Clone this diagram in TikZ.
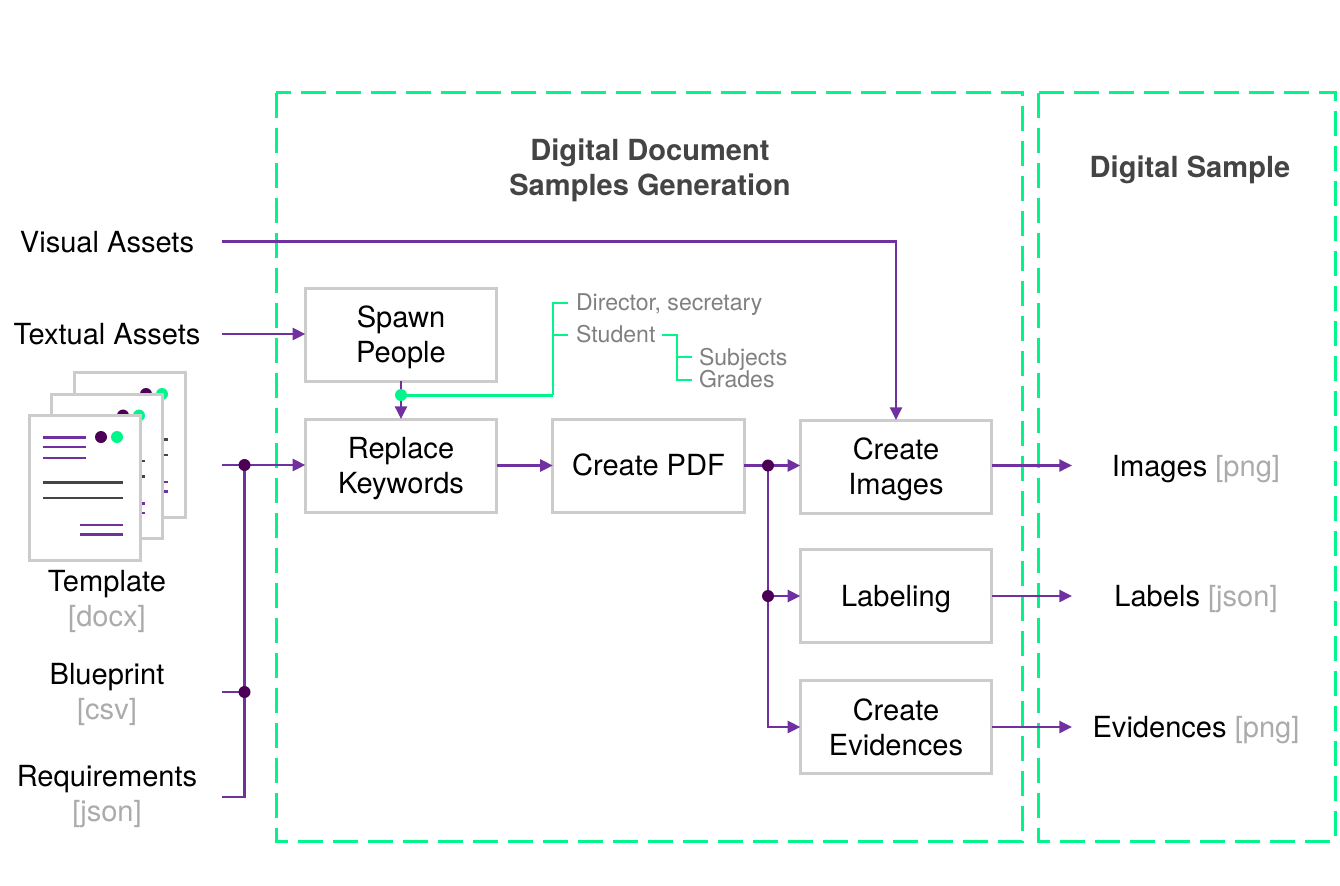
\documentclass[tikz,border=0pt]{standalone}
\usepackage{fontspec}
\setmainfont{TeX Gyre Heros}
\usetikzlibrary{arrows.meta,calc}
\definecolor{wire}{HTML}{7030A0}
\definecolor{dotc}{HTML}{4C0055}
\definecolor{mint}{HTML}{00F58A}
\definecolor{boxc}{HTML}{CCCCCC}
\definecolor{darkt}{HTML}{444444}
\definecolor{graylab}{HTML}{ABABAB}
\definecolor{graysm}{HTML}{808080}
\tikzset{
  x=0.75pt,y=-0.75pt,
  txt/.style={inner sep=0pt,outer sep=0pt,align=center,text=black,font=\fontsize{21.8}{26.25}\selectfont},
  procbox/.style={txt,draw=boxc,line width=2.25pt,fill=white,minimum width=143.5pt,minimum height=69.75pt,outer sep=0pt,text depth=0pt},
  title/.style={txt,text=darkt,font=\fontsize{21.8}{26.25}\selectfont\bfseries},
  small/.style={inner sep=0pt,outer sep=0pt,text=graysm,anchor=base west,font=\fontsize{17.3}{20}\selectfont},
  zone/.style={draw=mint,line width=2.25pt,dash pattern=on 18.75pt off 7.5pt},
  wireline/.style={draw=wire,line width=1.8pt},
  arrowline/.style={wireline,-{Triangle[length=9.5pt,width=9pt]}},
  branch/.style={draw=mint,line width=1.5pt},
  mintthick/.style={draw=mint,line width=2.25pt},
  jdot/.style={circle,fill=dotc,minimum size=9pt,inner sep=0pt,outer sep=0pt},
  mdot/.style={circle,fill=mint,minimum size=9pt,inner sep=0pt,outer sep=0pt},
  sheet/.style={draw=boxc,line width=2.25pt,fill=white},
}
\newcommand{\sheetat}[2]{%
  \begin{scope}[shift={(#1,#2)}]
    \path[sheet] (29.5,415.5) rectangle (140.5,560);
    \draw[wire,line width=2.1pt] (43,437.5) -- (86,437.5);
    \draw[wire,line width=1.6pt] (43,447) -- (86,447);
    \draw[wire,line width=1.6pt] (43,458) -- (86,458);
    \fill[dotc] (101,437) circle[radius=6];
    \fill[mint] (117,437) circle[radius=6];
    \draw[darkt,line width=2.2pt] (43,482.5) -- (123,482.5);
    \draw[darkt,line width=1.6pt] (43,498) -- (123,498);
    \draw[wire,line width=1.6pt] (80,525) -- (123,525);
    \draw[wire,line width=2.2pt] (80,534.5) -- (123,534.5);
  \end{scope}}
\begin{document}
\begin{tikzpicture}
\useasboundingbox (0,0) rectangle (1340,886);
% zones
\draw[zone] (276,92.5) rectangle (1022.5,841);
\draw[zone] (1038.5,92.5) rectangle (1335,841);
\node[title] (t1) at (650,170) {Digital Document\\Samples Generation};
\node[title] (t2) at (1190,170) {Digital Sample};
% template stack
\sheetat{45}{-43}
\sheetat{22}{-21.5}
\sheetat{0}{0}
% inputs
\node[txt] (visual) at (107,242) {Visual Assets};
\node[txt] (textual) at (107,334) {Textual Assets};
\node[txt] (template) at (107,601.5) {Template\\{\color{graylab}[docx]}};
\node[txt] (blueprint) at (107,694.5) {Blueprint\\{\color{graylab}[csv]}};
\node[txt] (reqs) at (107,797) {Requirements\\{\color{graylab}[json]}};
% process
\node[procbox] (spawn) at (401,334.5) {Spawn\\People};
\node[procbox] (replace) at (401,465.5) {Replace\\Keywords};
\node[procbox,text height=15pt] (pdf) at (648.5,465.5) {Create PDF};
\node[procbox] (images) at (896,466.5) {Create\\Images};
\node[procbox,text depth=-1pt] (labeling) at (896,596) {Labeling};
\node[procbox] (evid) at (896,727) {Create\\Evidences};
% outputs
\node[txt] (oimg) at (1196,469) {Images {\color{graylab}[png]}};
\node[txt] (olab) at (1196,599) {Labels {\color{graylab}[json]}};
\node[txt] (oevi) at (1196,730) {Evidences {\color{graylab}[png]}};
% small
\node[small] (dir) at (576,310) {Director, secretary};
\node[small] (stu) at (576,342) {Student};
\node[small] (sub) at (699,365) {Subjects};
\node[small] (gra) at (699,387.5) {Grades};
% free coordinates
\coordinate (vs) at (222,241.5);
\coordinate (ts) at (222,334);
\coordinate (tps) at (222,465);
\coordinate (bps) at (222,692);
\coordinate (rqs) at (222,797);
\coordinate (oi) at (1072,465.5);
\coordinate (ol) at (1072,596);
\coordinate (oe) at (1072,727);
\coordinate (jt) at (244.5,465);
\coordinate (jb) at (244.5,692);
\coordinate (jp) at (768,465.5);
\coordinate (jl) at (768,596);
\coordinate (gd) at (401,395);
\coordinate (gv) at (553,395);
\coordinate (s1) at (677,335);
\coordinate (g1) at (568,303);
\coordinate (g2) at (568,335);
\coordinate (s0) at (662,335);
\coordinate (g3) at (692,357);
\coordinate (g4) at (692,380);
% connectors
\draw[arrowline] (vs) -- (images.north |- vs) -- (images.north);
\draw[arrowline] (ts) -- (spawn.west |- ts);
\draw[arrowline] (tps) -- (replace.west |- tps);
\draw[wireline] (bps) -- (jb);
\draw[wireline] (rqs) -- (rqs -| jb) -- (jt);
\draw[arrowline] (spawn.south) -- (replace.north);
\draw[arrowline] (replace.east) -- (pdf.west);
\draw[arrowline] (pdf.east) -- (images.west |- pdf.east);
\draw[arrowline] (jp) -- (jp |- evid.west) -- (evid.west);
\draw[arrowline] (jl) -- (labeling.west);
\draw[arrowline] (images.east |- oi) -- (oi);
\draw[arrowline] (labeling.east) -- (ol);
\draw[arrowline] (evid.east) -- (oe);
% mint branches
\draw[mintthick] (gd) -- (gv);
\draw[branch] (gv) -- (gv |- g1) -- (g1);
\draw[branch] (gv |- g2) -- (g2);
\draw[branch] (s0) -- (s1) -- (s1 |- g4) -- (g4);
\draw[branch] (s1 |- g3) -- (g3);
% junction dots
\node[jdot] (d1) at (jt) {};
\node[jdot] (d2) at (jb) {};
\node[jdot] (d3) at (jp) {};
\node[jdot] (d4) at (jl) {};
\node[mdot] (d5) at (gd) {};
\end{tikzpicture}
\end{document}
